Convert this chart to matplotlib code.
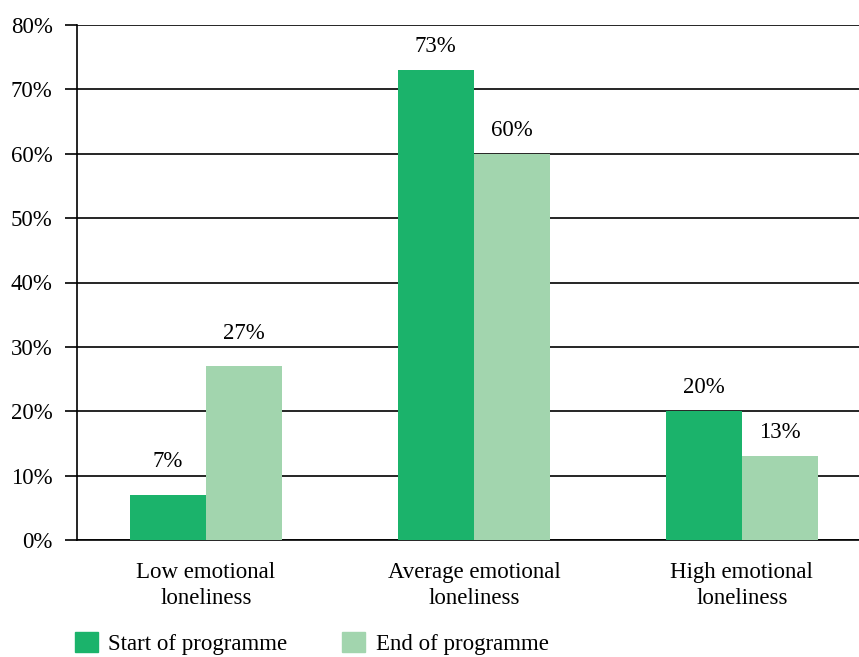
import matplotlib
matplotlib.use("Agg")
import matplotlib.pyplot as plt
import numpy as np
from matplotlib.patches import Patch

categories = ["Low emotional\nloneliness", "Average emotional\nloneliness", "High emotional\nloneliness"]
start_vals = [7, 73, 20]
end_vals = [27, 60, 13]
series_names = ["Start of programme", "End of programme"]
y_ticks = [0, 10, 20, 30, 40, 50, 60, 70, 80]

dark = "#1bb36b"
light = "#a2d5ae"
fs = 16.5

plt.rcParams['font.family'] = ['Liberation Serif', 'DejaVu Serif']

fig = plt.figure(figsize=(8.59, 6.57), dpi=100)
# axes: left spine at x=77px, top at y=25px, bottom at y=540px
ax = fig.add_axes([77/859, 1 - 540/657, 1 - 77/859, (540 - 25)/657])

x = np.arange(len(categories))
w = 0.284
ax.bar(x - w/2, start_vals, w, color=dark, zorder=3)
ax.bar(x + w/2, end_vals, w, color=light, zorder=3)


def label_y(v):
    # put label above the bar, but clear of a gridline it would sit on
    y = v + 2.0
    for t in y_ticks:
        if y - 0.3 < t < y + 2.6:
            return t + 0.5
    return y


for xs, vals in [(x - w/2, start_vals), (x + w/2, end_vals)]:
    for xi, v in zip(xs, vals):
        ax.text(xi, label_y(v), f"{v}%", ha="center", va="bottom", fontsize=fs)

ax.set_xlim(-0.481, 2.437)
ax.set_ylim(0, 80)
ax.set_yticks(y_ticks)
ax.set_yticklabels([f"{t}%" for t in y_ticks], fontsize=fs)
ax.yaxis.grid(True, color="black", linewidth=1.2, zorder=0)
ax.tick_params(axis="y", length=8.6, width=1.2, pad=9)
ax.set_xticks(x)
ax.set_xticklabels(categories, fontsize=fs, linespacing=1.3)
ax.tick_params(axis="x", length=0, pad=16)

for s in ["top", "right"]:
    ax.spines[s].set_visible(False)
ax.spines["left"].set_linewidth(1.2)
ax.spines["bottom"].set_linewidth(1.2)

handles = [Patch(color=dark), Patch(color=light)]
fig.legend(handles, series_names, loc="lower left", bbox_to_anchor=(75/859, 2/657),
           ncol=2, frameon=False, fontsize=fs, handlelength=1.0, handleheight=1.0,
           columnspacing=2.4, handletextpad=0.45, borderpad=0, borderaxespad=0)

fig.savefig("out.png", dpi=100)
